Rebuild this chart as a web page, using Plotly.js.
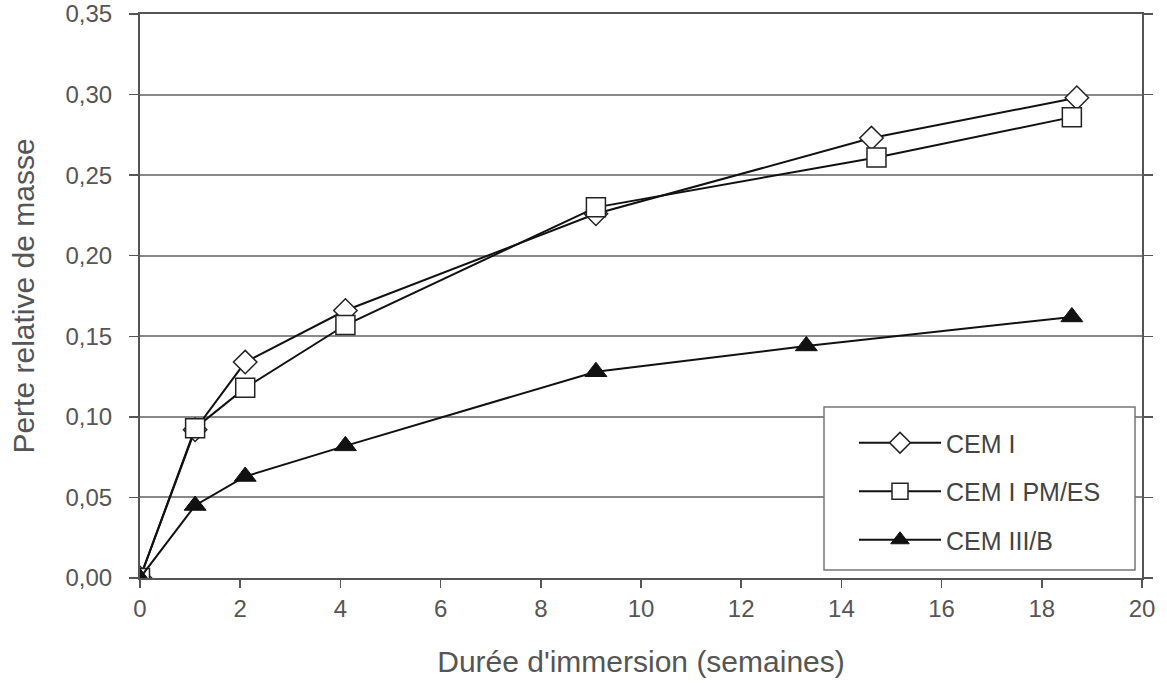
<!DOCTYPE html>
<html><head><meta charset="utf-8">
<script src="https://cdn.plot.ly/plotly-3.0.1.min.js"></script>
<style>html,body{margin:0;padding:0;background:#fff}#chart{width:1167px;height:687px}</style>
</head><body><div id="chart"></div>
<script>
const seriesNames = ["CEM I", "CEM I PM/ES", "CEM III/B"];
const cemI_x = [0, 1.1, 2.1, 4.1, 9.1, 14.6, 18.7];
const cemI_y = [0, 0.092, 0.134, 0.166, 0.226, 0.273, 0.298];
const cemIPM_x = [0, 1.1, 2.1, 4.1, 9.1, 14.7, 18.6];
const cemIPM_y = [0, 0.093, 0.118, 0.157, 0.230, 0.261, 0.286];
const cemIII_x = [0, 1.1, 2.1, 4.1, 9.1, 13.3, 18.6];
const cemIII_y = [0, 0.045, 0.063, 0.082, 0.128, 0.144, 0.162];
const xTicks = [0, 2, 4, 6, 8, 10, 12, 14, 16, 18, 20];
const yTicks = [0, 0.05, 0.10, 0.15, 0.20, 0.25, 0.30, 0.35];

const lineStyle = {color: '#111', width: 2};
const traces = [
  {x: cemI_x, y: cemI_y, name: seriesNames[0], mode: 'lines+markers', legendgroup: 'a',
   line: lineStyle, marker: {symbol: 'diamond', size: 18, color: '#fff', line: {color: '#222', width: 1.5}}},
  {x: cemIPM_x, y: cemIPM_y, name: seriesNames[1], mode: 'lines+markers', legendgroup: 'b',
   line: lineStyle, marker: {symbol: 'square', size: 19, color: '#fff', line: {color: '#222', width: 1.5}}},
  {x: cemIII_x, y: cemIII_y, name: seriesNames[2], mode: 'lines+markers', legendgroup: 'c',
   line: lineStyle, marker: {symbol: 'triangle-up', size: 19, color: '#111', line: {color: '#111', width: 1}}}
];
const fam = 'Liberation Sans, Arial, sans-serif';
// plot area in pixels: x 140..1142, y 14..578
const px = v => (v - 140) / 1002;
const py = v => (578 - v) / 564;
const layout = {
  width: 1167, height: 687,
  margin: {l: 140, r: 25, t: 14, b: 109},
  paper_bgcolor: '#fff', plot_bgcolor: '#fff',
  separators: ', ',
  font: {family: fam, color: '#555', size: 24},
  showlegend: true,
  legend: {x: px(854), y: py(420), xanchor: 'left', yanchor: 'top', borderwidth: 0,
    bgcolor: 'rgba(0,0,0,0)', font: {family: fam, size: 25, color: '#444'},
    traceorder: 'grouped', tracegroupgap: 13, itemwidth: 82},
  shapes: [{type: 'rect', xref: 'paper', yref: 'paper', layer: 'above',
    x0: px(824), x1: px(1135), y0: py(570), y1: py(407),
    fillcolor: '#fff', line: {color: '#777', width: 1.5}}],
  xaxis: {range: [0, 20], tickvals: xTicks, ticks: 'outside', ticklen: 8, tickcolor: '#555', tickwidth: 1.5,
    showline: true, linecolor: '#555', linewidth: 2, mirror: true, showgrid: false, zeroline: false,
    tickfont: {size: 24, color: '#555'},
    title: {text: "Durée d'immersion (semaines)", font: {size: 30, color: '#555'}, standoff: 30}},
  yaxis: {range: [0, 0.35], tickvals: yTicks, tickformat: '.2f', ticks: 'outside', ticklen: 9, tickcolor: '#555', tickwidth: 1.5,
    showline: true, linecolor: '#555', linewidth: 2, mirror: 'ticks', ticklabelstandoff: 12,
    showgrid: true, gridcolor: '#888', gridwidth: 2, zeroline: false,
    tickfont: {size: 24, color: '#555'},
    title: {text: 'Perte relative de masse', font: {size: 30, color: '#555'}, standoff: 22}}
};
Plotly.newPlot('chart', traces, layout, {displayModeBar: false, staticPlot: true});
</script>
</body></html>
